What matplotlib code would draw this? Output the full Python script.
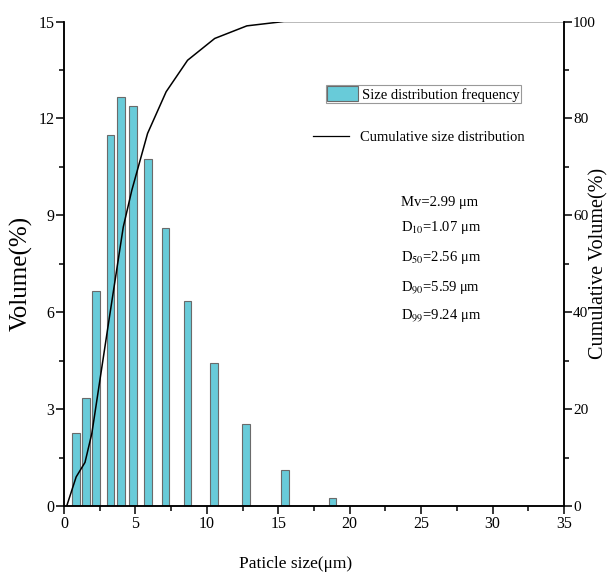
import numpy as np
import matplotlib
matplotlib.use('Agg')
import matplotlib.pyplot as plt
from matplotlib.patches import Patch
from matplotlib.lines import Line2D
from matplotlib.ticker import MultipleLocator

plt.rcParams['font.family'] = ['Liberation Serif', 'DejaVu Serif']
plt.rcParams['mathtext.fontset'] = 'stix'

# particle size bins (um) and volume fraction (%)
sizes = [0.82, 1.52, 2.23, 3.27, 3.99, 4.84, 5.86, 7.09, 8.66, 10.49, 12.74, 15.47, 18.79]
volume = [2.26, 3.35, 6.67, 11.5, 12.65, 12.39, 10.73, 8.61, 6.36, 4.44, 2.54, 1.10, 0.25]

# cumulative curve
cum_x = [0.19, 0.85, 1.47, 1.95, 3.15, 4.15, 4.75, 5.85, 7.15, 8.65, 10.55, 12.8, 15.4, 18.0, 35]
cum_y = [0, 6, 9, 15, 38.4, 57.6, 65.2, 76.9, 85.5, 92, 96.5, 99.1, 100, 100, 100]

stats = ['Mv=2.99 \u03bcm', 'D$_{10}$=1.07 \u03bcm', 'D$_{50}$=2.56 \u03bcm',
         'D$_{90}$=5.59 \u03bcm', 'D$_{99}$=9.24 \u03bcm']

W, H = 611, 577
fig = plt.figure(figsize=(W/100, H/100), dpi=100)
ax = fig.add_axes([64/W, 1-506/H, 500/W, 484.5/H])
ax2 = ax.twinx()

bar_col = '#68cbd9'
ax.bar(sizes, volume, width=0.53, color=bar_col, edgecolor='#6a6a6a', linewidth=0.8, zorder=2)
ax2.plot(cum_x, cum_y, color='black', lw=1.1, zorder=3)

ax.set_xlim(0, 35)
ax.set_ylim(0, 15)
ax2.set_ylim(0, 100)
ax.xaxis.set_major_locator(MultipleLocator(5))
ax.xaxis.set_minor_locator(MultipleLocator(2.5))
ax.yaxis.set_major_locator(MultipleLocator(3))
ax.yaxis.set_minor_locator(MultipleLocator(1.5))
ax2.yaxis.set_major_locator(MultipleLocator(20))
ax2.yaxis.set_minor_locator(MultipleLocator(10))

for a in (ax, ax2):
    a.spines['top'].set_visible(False)
    for s in a.spines.values():
        s.set_linewidth(1.1)
    a.tick_params(which='major', length=5.5, width=1.1, labelsize=11.5, pad=1.5)
    a.tick_params(which='minor', length=3.5, width=1.1)
ax.tick_params(axis='x', which='major', pad=2)
ax2.tick_params(which='major', labelsize=11, pad=1)

ax.set_xlabel('Paticle size(\u03bcm)', fontsize=12.5)
ax.xaxis.set_label_coords(0.464, -0.103)
ax.set_ylabel('Volume(%)', fontsize=18)
ax.yaxis.set_label_coords(-0.062, 0.48)
ax2.set_ylabel('Cumulative Volume(%)', fontsize=14.5)
ax2.yaxis.set_label_coords(1.05, 0.5)

h1 = Patch(facecolor=bar_col, edgecolor='#6a6a6a', linewidth=0.8)
leg1 = fig.legend(handles=[h1], labels=['Size distribution frequency'], loc='upper left',
                  bbox_to_anchor=(326/W, 1-85/H), frameon=True, fancybox=False,
                  edgecolor='#808080', fontsize=10.5, handlelength=2.1, handleheight=1.2,
                  handletextpad=0.25, borderpad=0.1, borderaxespad=0)
leg1.get_frame().set_linewidth(0.8)
h2 = Line2D([], [], color='black', lw=0.9)
fig.legend(handles=[h2], labels=['Cumulative size distribution'], loc='upper left',
           bbox_to_anchor=(313/W, 1-131/H), frameon=False, fontsize=10.5,
           handlelength=2.5, handletextpad=0.7, borderpad=0, borderaxespad=0)

ys = [203, 227, 257, 287, 316]
for s, y in zip(stats, ys):
    fig.text(401/W, 1-y/H, s, fontsize=10.5, va='center', ha='left')

fig.savefig('out.png', dpi=100)
